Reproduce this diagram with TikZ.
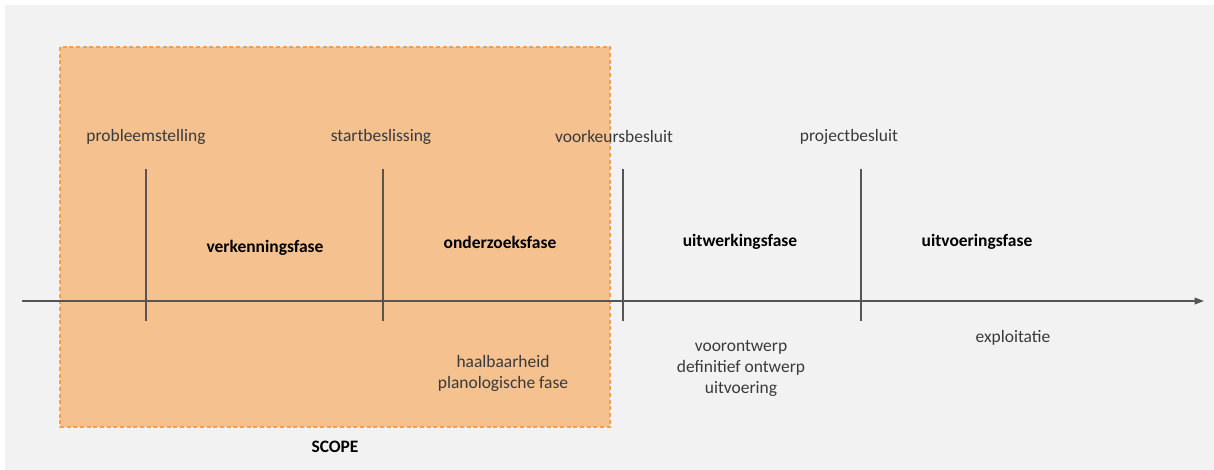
\documentclass[tikz,border=0pt]{standalone}
\usepackage{fontspec}
\setmainfont{Carlito}
\usetikzlibrary{arrows.meta}
\definecolor{bggray}{HTML}{F2F2F2}
\definecolor{scopefill}{HTML}{F4C18F}
\definecolor{scopeline}{HTML}{F4A04C}
\definecolor{linegray}{HTML}{555555}
\definecolor{textgray}{HTML}{3A3A3A}
\tikzset{
  lbl/.style={font=\fontsize{13.1}{15.75}\selectfont, text=textgray, inner sep=0pt, align=center},
  phase/.style={font=\fontsize{13.1}{15.75}\selectfont\bfseries, text=black, inner sep=0pt, align=center},
  tick/.style={draw=linegray, line width=0.9pt},
  axis/.style={draw=linegray, line width=1.1pt, -{Triangle[length=7pt,width=5pt]}},
}
\begin{document}
\begin{tikzpicture}[x=0.75pt,y=-0.75pt]
\useasboundingbox (0,0) rectangle (1214,470);
\fill[white] (0,0) rectangle (1214,470);
\fill[bggray] (5,5) rectangle (1214,470);
\fill[scopefill] (60,47) rectangle (610,427);
\draw[scopeline, dashed, line width=0.9pt, dash pattern=on 3pt off 2pt] (60,47) rectangle (610,427);

% axis
\coordinate (a0) at (22,301);
\coordinate (a1) at (1204,301);
\draw[axis] (a0) -- (a1);

% ticks
\foreach \n/\x in {t1/146, t2/383, t3/623, t4/861}{
  \coordinate (\n top) at (\x,169);
  \coordinate (\n bot) at (\x,321);
}
\draw[tick] (t1top) -- (t1bot);
\draw[tick] (t2top) -- (t2bot);
\draw[tick] (t3top) -- (t3bot);
\draw[tick] (t4top) -- (t4bot);

% milestones
\node[lbl] (m1) at (146,137) {probleemstelling};
\node[lbl] (m2) at (381,137) {startbeslissing};
\node[lbl] (m3) at (614,137) {voorkeursbesluit};
\node[lbl] (m4) at (849,137) {projectbesluit};

% phases
\node[phase] (p1) at (265,248) {verkenningsfase};
\node[phase] (p2) at (500,242) {onderzoeksfase};
\node[phase] (p3) at (740,242) {uitwerkingsfase};
\node[phase] (p4) at (977,242) {uitvoeringsfase};

% details
\node[lbl] (d2) at (503,373) {haalbaarheid\\planologische fase};
\node[lbl] (d3) at (741,368) {voorontwerp\\definitief ontwerp\\uitvoering};
\node[lbl] (d4) at (1013,338) {exploitatie};

\node[phase] (scope) at (335,447) {SCOPE};
\end{tikzpicture}
\end{document}
